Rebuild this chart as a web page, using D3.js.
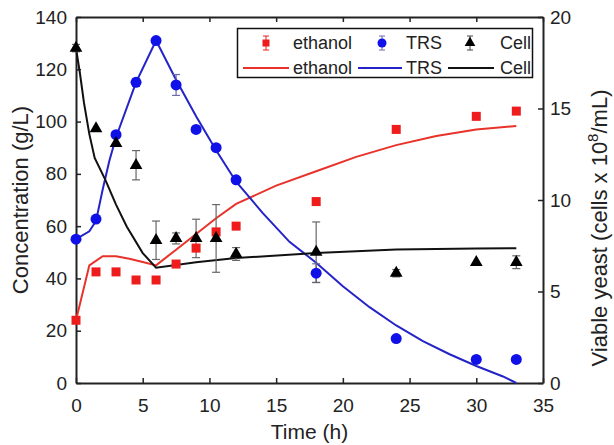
<!DOCTYPE html>
<html>
<head>
<meta charset="utf-8">
<script src="https://cdn.jsdelivr.net/npm/d3@7"></script>
<style>
  body { margin: 0; background: #fff; }
  svg text { font-family: "Liberation Sans", Arial, sans-serif; fill: #222; }
  .axis path, .axis line { stroke: #222; }
</style>
</head>
<body>
<div id="chart"></div>
<script>
// sampling times (h)
var time = [0, 1.5, 3, 4.5, 6, 7.5, 9, 10.5, 12, 18, 24, 30, 33];
// measured values
var ethanol = [24, 42.5, 42.5, 39.4, 39.4, 45.5, 51.6, 57.8, 60, 69.4, 97, 102, 104];
var trs = [55, 62.7, 95, 115, 131, 114, 97, 90, 77.7, 42, 17, 9, 9];
var trsErr = [0.5, 0.5, 0.5, 1.5, 1, 4, 1, 1, 0.5, 3.6, 0, 0, 0];
// viable cells (x 10^8 / mL), right axis
var cell = [18.3, 13.9, 13.1, 11.9, 7.8, 7.9, 7.9, 7.9, 7.05, 7.15, 6.0, 6.6, 6.6];
var cellErr = [0.2, 0, 0, 0.8, 1.05, 0.3, 1.05, 1.85, 0.35, 1.65, 0.2, 0, 0.35];

// model curves
var fitTime = [0, 1, 2, 3, 4, 5, 6, 7.5, 9, 10.5, 12, 15, 18, 21, 24, 27, 30, 33];
var ethanolFit = [24, 45, 48.5, 48.5, 47.5, 46.3, 45, 51, 57, 63, 68.5, 75.5, 81, 86.5, 91, 94.5, 97, 98.3];
var trsFitTime = [0, 1, 1.5, 2, 2.5, 3, 4.5, 6, 7.5, 9, 10.5, 12, 14, 16, 18, 20, 22, 24, 26, 28, 30, 32, 33];
var trsFit = [55, 58, 62, 74, 85, 94, 115, 131, 116, 102, 89, 77, 65, 54, 46, 37, 29, 22, 16, 11, 6.5, 2.5, 0];
var cellFitTime = [0, 0.3, 0.6, 1, 1.4, 2.2, 3, 3.8, 5, 6, 9, 12, 18, 24, 30, 33];
var cellFit = [18.3, 16.9, 15.3, 13.6, 12.3, 11.1, 9.75, 8.55, 7.1, 6.3, 6.6, 6.83, 7.1, 7.3, 7.35, 7.37];

var xTicks = [0, 5, 10, 15, 20, 25, 30, 35];
var yTicks = [0, 20, 40, 60, 80, 100, 120, 140];
var y2Ticks = [0, 5, 10, 15, 20];

var svgWidth = 614;
var svgHeight = 445;
var margin = { top: 17, right: 71, bottom: 62, left: 76 };
var width = svgWidth - margin.left - margin.right;
var height = svgHeight - margin.top - margin.bottom;

var red = "#ee1c1c";
var blue = "#1010e8";
var lineBlue = "#2323c8";
var lineRed = "#e8322a";

var svg = d3.select("#chart")
  .append("svg")
  .attr("width", svgWidth)
  .attr("height", svgHeight);

var chart = svg.append("g")
  .attr("transform", "translate(" + margin.left + "," + margin.top + ")");

var x = d3.scaleLinear().domain([0, 35]).range([0, width]);
var y = d3.scaleLinear().domain([0, 140]).range([height, 0]);
var y2 = d3.scaleLinear().domain([0, 20]).range([height, 0]);

// axes, ticks pointing inside
chart.append("g")
  .attr("class", "axis")
  .attr("transform", "translate(0," + height + ")")
  .call(d3.axisBottom(x).tickValues(xTicks).tickSizeInner(-5).tickSizeOuter(0).tickPadding(16))
  .call(function(g) { g.selectAll("text").style("font-size", "19px"); });

chart.append("g")
  .attr("class", "axis")
  .call(d3.axisTop(x).tickValues(xTicks).tickSizeInner(-5).tickSizeOuter(0).tickFormat(""));

chart.append("g")
  .attr("class", "axis")
  .call(d3.axisLeft(y).tickValues(yTicks).tickSizeInner(-5).tickSizeOuter(0).tickPadding(9))
  .call(function(g) { g.selectAll("text").style("font-size", "19px"); });

chart.append("g")
  .attr("class", "axis")
  .attr("transform", "translate(" + width + ",0)")
  .call(d3.axisRight(y2).tickValues(y2Ticks).tickSizeInner(-5).tickSizeOuter(0).tickPadding(7))
  .call(function(g) { g.selectAll("text").style("font-size", "19px"); });

chart.selectAll(".axis path").attr("stroke-width", 2);
chart.selectAll(".axis line").attr("stroke-width", 1.5);

// axis titles
svg.append("text")
  .attr("x", margin.left + width / 2)
  .attr("y", 439)
  .attr("text-anchor", "middle")
  .style("font-size", "21px")
  .text("Time (h)");

svg.append("text")
  .attr("transform", "translate(28," + (margin.top + height / 2) + ") rotate(-90)")
  .attr("text-anchor", "middle")
  .style("font-size", "22px")
  .text("Concentration (g/L)");

var rightTitle = svg.append("text")
  .attr("transform", "translate(607," + (margin.top + height / 2 + 28) + ") rotate(-90)")
  .attr("text-anchor", "middle")
  .style("font-size", "22px");
rightTitle.append("tspan").text("Viable yeast (cells x 10");
rightTitle.append("tspan").attr("dy", -9).style("font-size", "15px").text("8");
rightTitle.append("tspan").attr("dy", 9).text("/mL)");

// model lines
var line = function(xs, ys, scale) {
  return d3.line()
    .x(function(d, i) { return x(xs[i]); })
    .y(function(d) { return scale(d); })(ys);
};

chart.append("path")
  .attr("d", line(fitTime, ethanolFit, y))
  .attr("fill", "none").attr("stroke", lineRed).attr("stroke-width", 2);
chart.append("path")
  .attr("d", line(trsFitTime, trsFit, y))
  .attr("fill", "none").attr("stroke", lineBlue).attr("stroke-width", 2);
chart.append("path")
  .attr("d", line(cellFitTime, cellFit, y2))
  .attr("fill", "none").attr("stroke", "#111").attr("stroke-width", 2);

// error bars
function errBars(vals, errs, scale, color) {
  var g = chart.append("g").attr("stroke", color).attr("stroke-width", 1.2);
  vals.forEach(function(v, i) {
    if (!errs[i]) return;
    var cx = x(time[i]);
    var top = scale(v + errs[i]);
    var bot = scale(v - errs[i]);
    g.append("line").attr("x1", cx).attr("x2", cx).attr("y1", top).attr("y2", bot);
    g.append("line").attr("x1", cx - 4).attr("x2", cx + 4).attr("y1", top).attr("y2", top);
    g.append("line").attr("x1", cx - 4).attr("x2", cx + 4).attr("y1", bot).attr("y2", bot);
  });
}
errBars(trs, trsErr, y, "#6a6ab0");
errBars(cell, cellErr, y2, "#666");

// markers
chart.selectAll(".eth")
  .data(ethanol)
  .enter().append("rect")
  .attr("class", "eth")
  .attr("x", function(d, i) { return x(time[i]) - 4.5; })
  .attr("y", function(d) { return y(d) - 4.5; })
  .attr("width", 9).attr("height", 9)
  .attr("fill", red);

chart.selectAll(".trs")
  .data(trs)
  .enter().append("circle")
  .attr("class", "trs")
  .attr("cx", function(d, i) { return x(time[i]); })
  .attr("cy", function(d) { return y(d); })
  .attr("r", 5.5)
  .attr("fill", blue);

var tri = d3.symbol().type(d3.symbolTriangle).size(70);
chart.selectAll(".cell")
  .data(cell)
  .enter().append("path")
  .attr("class", "cell")
  .attr("d", tri)
  .attr("transform", function(d, i) { return "translate(" + x(time[i]) + "," + y2(d) + ")"; })
  .attr("fill", "#000");

// legend
var legend = svg.append("g");
legend.append("rect")
  .attr("x", 237.5).attr("y", 28.5)
  .attr("width", 295).attr("height", 49)
  .attr("fill", "#fff").attr("stroke", "#111").attr("stroke-width", 1.5);

var legSeries = ["ethanol", "TRS", "Cell"];
var legMarkX = [266, 382, 470];
var legTextX = [352, 442, 531];
var legLineX = [[243, 289], [358, 402], [448, 494]];
var legLineColors = [lineRed, lineBlue, "#111"];
var legErrColors = [red, "#6a6ab0", "#444"];

legSeries.forEach(function(s, i) {
  var mx = legMarkX[i], my = 43;
  legend.append("line").attr("x1", mx).attr("x2", mx).attr("y1", my - 7).attr("y2", my + 7)
    .attr("stroke", legErrColors[i]).attr("stroke-width", 1);
  legend.append("line").attr("x1", mx - 3).attr("x2", mx + 3).attr("y1", my - 7).attr("y2", my - 7)
    .attr("stroke", legErrColors[i]).attr("stroke-width", 1);
  legend.append("line").attr("x1", mx - 3).attr("x2", mx + 3).attr("y1", my + 7).attr("y2", my + 7)
    .attr("stroke", legErrColors[i]).attr("stroke-width", 1);
  if (i === 0) {
    legend.append("rect").attr("x", mx - 3.5).attr("y", my - 3.5).attr("width", 7).attr("height", 7).attr("fill", red);
  } else if (i === 1) {
    legend.append("circle").attr("cx", mx).attr("cy", my).attr("r", 4.5).attr("fill", blue);
  } else {
    legend.append("path").attr("d", d3.symbol().type(d3.symbolTriangle).size(50))
      .attr("transform", "translate(" + mx + "," + my + ")").attr("fill", "#000");
  }
  legend.append("text").attr("x", legTextX[i]).attr("y", my + 6)
    .attr("text-anchor", "end").style("font-size", "18px").text(s);

  legend.append("line")
    .attr("x1", legLineX[i][0]).attr("x2", legLineX[i][1])
    .attr("y1", 68).attr("y2", 68)
    .attr("stroke", legLineColors[i]).attr("stroke-width", 2);
  legend.append("text").attr("x", legTextX[i]).attr("y", 74)
    .attr("text-anchor", "end").style("font-size", "18px").text(s);
});
</script>
</body>
</html>
